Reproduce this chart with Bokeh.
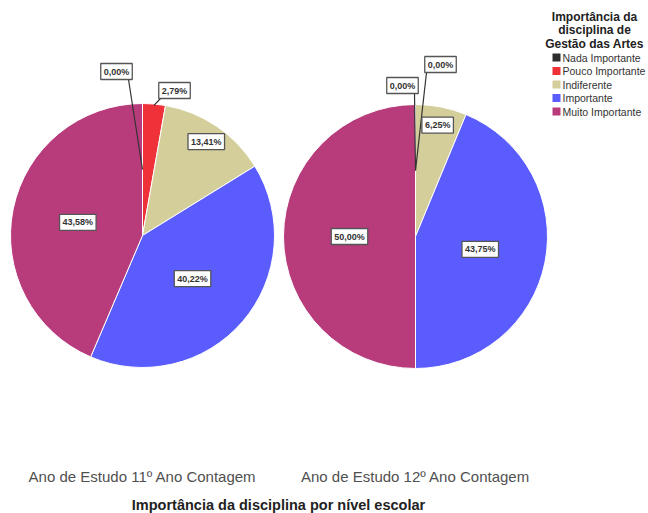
import math
from bokeh.plotting import figure
from bokeh.models import Range1d, Label
from bokeh.core.properties import value
from bokeh.embed import file_html
from bokeh.resources import INLINE

# ---------------- data ----------------
categories = ["Nada Importante", "Pouco Importante", "Indiferente", "Importante", "Muito Importante"]
colors = ["#2e2e2e", "#ef3139", "#d4ce9b", "#5b5cfd", "#b83c7c"]
pie_titles = ["Ano de Estudo 11º Ano Contagem", "Ano de Estudo 12º Ano Contagem"]
values_11 = [0.00, 2.79, 13.41, 40.22, 43.58]
values_12 = [0.00, 0.00, 6.25, 43.75, 50.00]
legend_title = ["Importância da", "disciplina de", "Gestão das Artes"]
chart_title = "Importância da disciplina por nível escolar"

# ---------------- layout (pixel space of the page) ----------------
W, H = 648, 513
FONT = "Liberation Sans"


def py(img_y):
    return 513 - img_y


p = figure(width=W, height=H, output_backend="svg", toolbar_location=None,
           x_range=Range1d(0, 648), y_range=Range1d(0, 513),
           min_border=0, outline_line_color=None)
p.axis.visible = False
p.grid.visible = False
p.background_fill_color = "white"

R = 132
centers = [(142, 235), (415, 236)]
# callout positions (offset from pie centre) for tiny slices
callouts = [
    {0: (-26, -164), 1: (32, -145)},
    {0: (-13, -151), 1: (25, -172)},
]

labels = []
leaders = []
for k, vals in enumerate([values_11, values_12]):
    cx, cy = centers[k]
    total = sum(vals)
    cum = 0.0
    xs, ys, sa, ea, cols = [], [], [], [], []
    for i, v in enumerate(vals):
        f0 = cum / total
        f1 = (cum + v) / total
        cum += v
        mid = (f0 + f1) / 2 * 2 * math.pi  # clockwise from 12 o'clock
        if v > 0:
            xs.append(cx); ys.append(py(cy))
            sa.append(math.pi / 2 - f0 * 2 * math.pi)
            ea.append(math.pi / 2 - f1 * 2 * math.pi)
            cols.append(colors[i])
        txt = f"{v:.2f}".replace(".", ",") + "%"
        if v >= 20:
            rr = 0.5 * R
            labels.append((cx + rr * math.sin(mid), cy - rr * math.cos(mid), txt))
        elif v >= 5:
            rr = 0.86 * R
            labels.append((cx + rr * math.sin(mid), cy - rr * math.cos(mid), txt))
        else:
            ox, oy = callouts[k][i]
            bx, by = cx + ox, cy + oy
            re = 0.5 * R if v == 0 else 0.99 * R
            ex, ey = cx + re * math.sin(mid), cy - re * math.cos(mid)
            sx = min(max(ex, bx - 14), bx + 12)
            leaders.append((sx, py(by + 8), ex, py(ey)))
            labels.append((bx, by, txt))
    p.wedge(x=xs, y=ys, radius=R, start_angle=sa, end_angle=ea,
            direction="clock", fill_color=cols, line_color="white", line_width=1)
    p.text(x=[cx], y=[py(476)], text=[pie_titles[k]], text_align="center",
           text_baseline="middle", text_font=value(FONT), text_font_size="15px",
           text_color="#505050")

p.segment(x0=[s[0] for s in leaders], y0=[s[1] for s in leaders],
          x1=[s[2] for s in leaders], y1=[s[3] for s in leaders],
          line_color="#333333", line_width=1.2)

for (lx, ly, txt) in labels:
    p.add_layout(Label(x=lx, y=py(ly), text=txt, text_align="center",
                       text_baseline="middle", text_font=FONT, text_font_size="9px",
                       text_font_style="bold", text_color="#333333",
                       background_fill_color="white", background_fill_alpha=1,
                       border_line_color="#555555", border_line_width=1.3,
                       padding=3))

# chart title
p.text(x=[278], y=[py(504)], text=[chart_title], text_align="center",
       text_baseline="middle", text_font=value(FONT), text_font_size="14.5px",
       text_font_style="bold", text_color="#222222")

# legend
for j, t in enumerate(legend_title):
    p.text(x=[594], y=[py(16 + j * 13.5)], text=[t], text_align="center",
           text_baseline="middle", text_font=value(FONT), text_font_size="12px",
           text_font_style="bold", text_color="#222222")
ly = [py(57 + i * 13.5) for i in range(len(categories))]
p.scatter(x=[556] * len(categories), y=ly, marker="square", size=8,
          fill_color=colors, line_color=None)
p.text(x=[562] * len(categories), y=ly, text=categories, text_align="left",
       text_baseline="middle", text_font=value(FONT), text_font_size="10.5px",
       text_color="#333333")

open("out.html", "w").write(file_html(p, INLINE))
